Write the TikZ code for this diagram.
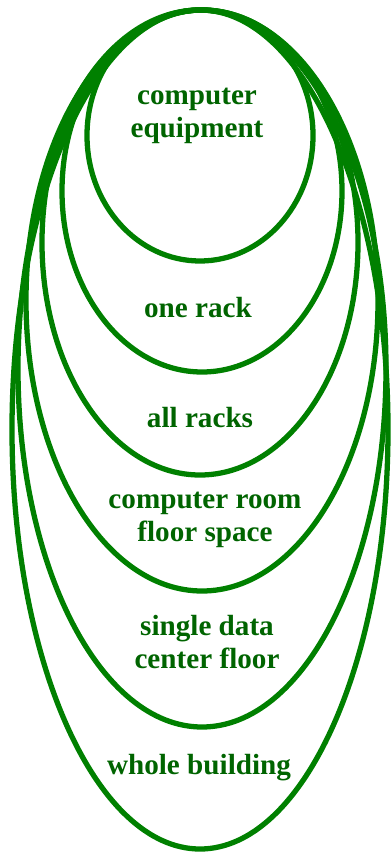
\documentclass[tikz,border=0pt]{standalone}
\usepackage{fontspec}
\setmainfont{Liberation Serif}
\usepackage{xcolor}
\usepackage{tikz}
\definecolor{zonegreen}{RGB}{0,128,0}
\definecolor{labelgreen}{RGB}{0,100,0}
\tikzset{
  zone/.style={draw=zonegreen,line width=3pt},
  lbl/.style={text=labelgreen,align=center,inner sep=0pt,
    font=\bfseries\fontsize{16.6}{18.4}\selectfont}
}
\begin{document}
\begin{tikzpicture}[x=0.02cm,y=-0.02cm]
\useasboundingbox (0,0) rectangle (390,855);
% nested scopes, all touching at the top
\foreach \cx/\cy/\rx/\ry in {200/135.5/113/125.5,202/191/140/181,200/242.5/158/232.5,
  202/300.5/176/290.5,202/368.5/184/358.5,200/429.5/188/419.5}
 \draw[zone] (\cx,\cy) ellipse [x radius=\rx, y radius=\ry];
\node[lbl] (equip) at (197,116) {computer\\equipment};
\node[lbl] (rack) at (198,308) {one rack};
\node[lbl] (racks) at (200,418) {all racks};
\node[lbl] (room) at (205,520) {computer room\\floor space};
\node[lbl] (floor) at (207,642) {single data\\center floor};
\node[lbl] (bldg) at (199,768) {whole building};
\end{tikzpicture}
\end{document}
